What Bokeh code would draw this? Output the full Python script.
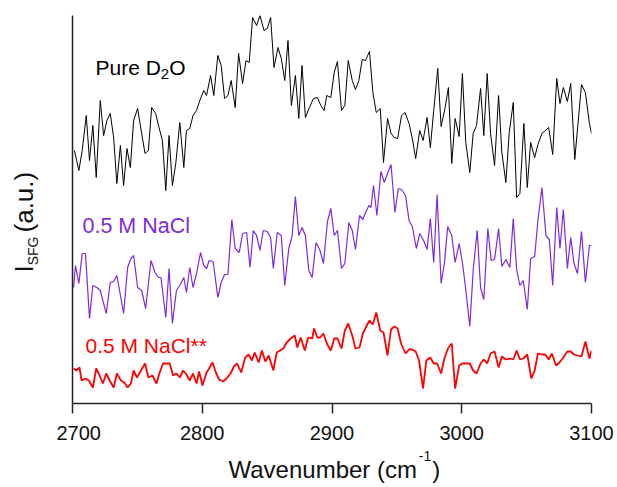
import math
from bokeh.plotting import figure
from bokeh.models import Range1d, FixedTicker, Label
from bokeh.core.properties import value
from bokeh.layouts import column, row
from bokeh.embed import file_html
from bokeh.resources import INLINE

# ---------------- data ----------------
x_ticks = [2700, 2800, 2900, 3000, 3100]

black_wn = [2701.5, 2704.9, 2707.5, 2710.6, 2713.1, 2715.7, 2718.3, 2721.4, 2724.0, 2726.5,
            2729.1, 2731.7, 2734.2, 2736.9, 2739.4, 2742.0, 2744.6, 2747.1, 2750.2, 2753.3,
            2755.9, 2758.5, 2761.0, 2764.1, 2766.7, 2769.3, 2771.9, 2774.4, 2777.0, 2779.6,
            2782.7, 2785.8, 2787.8, 2790.4, 2792.9, 2795.6, 2798.1, 2801.2, 2803.3, 2806.4,
            2808.9, 2812.0, 2814.6, 2817.2, 2819.8, 2822.3, 2825.4, 2828.0, 2831.1, 2833.7,
            2836.2, 2838.8, 2841.9, 2844.5, 2847.6, 2850.1, 2852.7, 2855.3, 2858.4, 2860.9,
            2863.6, 2866.1, 2868.7, 2871.8, 2874.4, 2876.9, 2879.5, 2882.6, 2885.7, 2888.7,
            2891.4, 2893.9, 2896.0, 2899.1, 2901.7, 2904.2, 2907.3, 2909.9, 2912.5, 2915.6,
            2918.1, 2920.7, 2923.3, 2925.8, 2928.9, 2931.5, 2934.1, 2937.2, 2939.7, 2942.8,
            2945.5, 2948.0, 2950.6, 2953.6, 2956.3, 2959.4, 2961.9, 2964.5, 2967.6, 2970.2,
            2973.3, 2975.8, 2978.4, 2981.5, 2984.1, 2987.2, 2989.7, 2992.3, 2994.9, 2998.0,
            3000.5, 3003.1, 3006.2, 3008.8, 3011.4, 3014.5, 3017.0, 3019.6, 3022.2, 3025.3,
            3028.4, 3030.9, 3034.0, 3036.6, 3039.7, 3042.3, 3044.8, 3047.9, 3050.5, 3053.1,
            3056.2, 3058.7, 3061.8, 3064.4, 3067.0, 3070.1, 3073.2, 3075.7, 3078.3, 3081.4,
            3084.0, 3087.1, 3089.6, 3092.3, 3095.3, 3098.4, 3100.0]
black_I = [253, 233, 253, 288, 243, 278, 226, 303, 268, 283,
           290, 266, 220, 258, 218, 255, 236, 283, 295, 270,
           250, 253, 296, 290, 276, 263, 213, 268, 218, 240,
           281, 236, 273, 275, 288, 293, 303, 313, 308, 328,
           308, 348, 338, 305, 308, 323, 296, 350, 320, 343,
           341, 386, 378, 388, 373, 375, 386, 336, 356, 345,
           323, 363, 298, 328, 285, 338, 286, 296, 305, 306,
           298, 293, 308, 306, 331, 342, 293, 298, 343, 323,
           314, 323, 344, 343, 352, 311, 291, 295, 241, 285,
           270, 266, 265, 288, 291, 280, 265, 245, 273, 263,
           286, 256, 293, 335, 277, 296, 316, 240, 285, 267,
           330, 261, 231, 270, 278, 315, 268, 330, 270, 238,
           308, 251, 221, 271, 301, 206, 210, 280, 216, 261,
           246, 259, 270, 273, 276, 249, 325, 300, 316, 302,
           320, 244, 280, 319, 311, 280, 270]

purple_wn = [2700.8, 2702.3, 2704.9, 2707.5, 2710.0, 2713.1, 2715.7, 2718.8, 2721.4, 2726.0,
             2729.1, 2731.7, 2734.2, 2736.3, 2739.4, 2742.5, 2745.0, 2747.1, 2750.2, 2753.3,
             2756.4, 2760.5, 2763.6, 2766.2, 2768.2, 2771.9, 2774.4, 2777.0, 2780.1, 2782.7,
             2785.8, 2787.8, 2790.4, 2792.9, 2795.6, 2798.7, 2801.2, 2803.3, 2805.3, 2808.4,
             2812.0, 2814.6, 2817.2, 2819.8, 2822.8, 2825.4, 2828.5, 2831.1, 2834.2, 2836.8,
             2839.3, 2841.9, 2844.5, 2847.0, 2850.1, 2852.7, 2854.8, 2857.8, 2860.9, 2863.6,
             2866.7, 2869.2, 2871.8, 2874.4, 2876.9, 2879.5, 2882.1, 2884.7, 2887.7, 2890.8,
             2893.4, 2896.5, 2899.1, 2901.7, 2904.2, 2907.3, 2909.9, 2913.0, 2915.6, 2918.1,
             2921.2, 2923.8, 2925.8, 2928.5, 2930.0, 2932.0, 2934.6, 2937.7, 2940.3, 2942.8,
             2945.5, 2948.5, 2951.1, 2953.6, 2956.7, 2959.4, 2961.9, 2965.0, 2967.6, 2970.6,
             2973.3, 2975.8, 2978.4, 2981.0, 2984.1, 2986.6, 2989.2, 2992.3, 2994.9, 2998.0,
             3000.5, 3003.1, 3006.2, 3008.8, 3011.9, 3014.5, 3017.0, 3020.1, 3022.7, 3025.3,
             3028.4, 3030.9, 3034.0, 3037.1, 3039.7, 3042.3, 3044.8, 3047.4, 3050.5, 3053.1,
             3056.2, 3058.7, 3061.8, 3064.9, 3067.5, 3070.1, 3073.2, 3075.7, 3078.3, 3081.4,
             3084.0, 3086.5, 3089.2, 3092.3, 3095.3, 3098.4, 3100.0]
purple_I = [116, 138, 120, 150, 150, 85, 118, 116, 113, 90,
            121, 122, 128, 113, 90, 136, 145, 148, 116, 113,
            95, 143, 131, 126, 126, 86, 135, 80, 113, 118,
            126, 111, 136, 116, 130, 151, 138, 135, 143, 142,
            106, 121, 129, 129, 184, 155, 151, 170, 171, 136,
            173, 168, 153, 173, 172, 166, 135, 171, 168, 118,
            155, 167, 207, 168, 176, 168, 133, 126, 161, 153,
            140, 182, 195, 168, 173, 135, 140, 181, 173, 154,
            188, 184, 191, 198, 196, 218, 188, 232, 221, 230,
            239, 191, 215, 214, 208, 183, 177, 155, 170, 163,
            154, 185, 141, 209, 120, 140, 177, 168, 141, 160,
            141, 114, 77, 133, 173, 116, 104, 175, 143, 144,
            175, 137, 144, 136, 185, 134, 118, 123, 94, 145,
            147, 183, 216, 168, 164, 118, 196, 155, 194, 135,
            166, 140, 130, 172, 121, 158, 158]

red_wn = [2700.8, 2702.9, 2705.4, 2707.0, 2710.0, 2712.6, 2715.7, 2718.3, 2720.9, 2723.4,
          2726.0, 2728.6, 2731.7, 2734.2, 2737.3, 2739.9, 2742.5, 2745.0, 2747.1, 2749.7,
          2752.8, 2755.9, 2758.5, 2761.6, 2764.7, 2767.2, 2769.8, 2772.9, 2774.9, 2777.5,
          2780.1, 2782.7, 2785.2, 2787.3, 2790.4, 2792.9, 2795.6, 2797.6, 2800.2, 2803.3,
          2805.3, 2807.9, 2810.5, 2813.0, 2816.1, 2818.7, 2821.8, 2824.4, 2826.9, 2830.0,
          2833.1, 2835.7, 2838.3, 2840.4, 2843.5, 2846.0, 2848.6, 2851.2, 2854.8, 2857.4,
          2859.9, 2862.5, 2865.1, 2868.2, 2871.3, 2873.3, 2875.9, 2879.0, 2881.6, 2884.7,
          2886.2, 2888.7, 2890.8, 2893.4, 2896.0, 2899.1, 2901.7, 2904.2, 2907.3, 2909.9,
          2912.5, 2915.6, 2918.1, 2921.2, 2923.8, 2926.4, 2928.9, 2931.5, 2934.1, 2937.2,
          2939.7, 2942.8, 2945.5, 2948.0, 2950.6, 2953.2, 2956.7, 2959.4, 2961.9, 2964.5,
          2967.1, 2970.2, 2972.7, 2975.8, 2978.4, 2981.0, 2984.1, 2986.6, 2989.7, 2992.3,
          2994.9, 2998.0, 3000.5, 3003.1, 3006.2, 3008.8, 3011.4, 3014.5, 3017.0, 3019.6,
          3022.2, 3025.3, 3028.4, 3030.9, 3034.0, 3037.1, 3039.7, 3042.3, 3044.8, 3047.4,
          3050.5, 3053.6, 3056.2, 3058.7, 3061.8, 3064.4, 3067.0, 3069.5, 3072.6, 3075.3,
          3078.3, 3081.4, 3084.0, 3086.5, 3089.2, 3092.3, 3095.3, 3098.4, 3100.0]
red_I = [35, 33, 36, 23, 25, 23, 16, 35, 28, 20,
         30, 23, 16, 30, 23, 21, 16, 20, 33, 26,
         33, 40, 26, 28, 20, 31, 40, 40, 40, 28,
         30, 26, 33, 30, 23, 30, 20, 32, 18, 31,
         35, 41, 31, 24, 22, 25, 30, 37, 40, 31,
         46, 49, 43, 51, 41, 53, 42, 48, 33, 51,
         53, 55, 61, 65, 68, 56, 66, 53, 66, 65,
         75, 66, 66, 70, 60, 53, 65, 65, 55, 73,
         80, 68, 55, 56, 70, 77, 83, 79, 91, 73,
         71, 48, 74, 77, 75, 60, 50, 54, 54, 52,
         43, 15, 43, 46, 40, 40, 30, 45, 56, 60,
         15, 38, 40, 40, 40, 33, 30, 40, 44, 40,
         50, 52, 36, 47, 44, 45, 44, 53, 44, 45,
         49, 25, 33, 50, 49, 49, 44, 50, 38, 41,
         46, 52, 52, 49, 48, 47, 62, 45, 53]

series_names = ["Pure D2O", "0.5 M NaCl", "0.5 M NaCl**"]

# ---------------- styling ----------------
FONT = "Liberation Sans"
BLACK = "#000000"
PURPLE = "#7D2AE0"
RED = "#FF0000"
TXT = "#111111"
MID = 0.3465   # distance baseline -> centre of the text box, in font sizes

ARIAL = {'P': 667, 'u': 556, 'r': 333, 'e': 556, ' ': 278, 'D': 722, '2': 556, 'O': 778,
         'I': 278, 'S': 667, 'F': 611, 'G': 778, '(': 333, 'a': 556, '.': 278, ')': 333,
         'W': 944, 'v': 500, 'n': 556, 'm': 833, 'b': 556, 'c': 500, '-': 333, '1': 556}


def tw(s, size):
    return sum(ARIAL.get(c, 556) for c in s) * size / 1000.0


# page geometry (canvas starts at page 0,0)
TOTAL_W, TOTAL_H = 617, 487
YL_W = 56                    # strip holding the rotated y title
MAIN_H = 448                 # main plot height
XL_H = TOTAL_H - MAIN_H      # strip holding the x title
MAIN_W = TOTAL_W - YL_W
FL, FR, FT = 16, 26, 15
FB = MAIN_H - 403
FRAME_X0, FRAME_Y0 = YL_W + FL, 403   # page position of (2700, 0)

p = figure(width=MAIN_W, height=MAIN_H, x_range=Range1d(x_ticks[0], x_ticks[-1]),
           y_range=Range1d(0, 388), output_backend="svg", toolbar_location=None,
           min_border_left=FL, min_border_right=FR, min_border_top=FT, min_border_bottom=FB,
           background_fill_color="white", border_fill_color="white")
p.title_location = None
p.outline_line_color = None
p.xgrid.visible = False
p.ygrid.visible = False

xa = p.xaxis[0]
xa.ticker = FixedTicker(ticks=x_ticks)
xa.axis_line_width = 1.5
xa.axis_line_color = "#222222"
xa.major_tick_line_width = 1.5
xa.major_tick_line_color = "#222222"
xa.major_tick_in = 0
xa.major_tick_out = 10
xa.minor_tick_line_color = None
xa.major_label_text_font = FONT
xa.major_label_text_font_size = "20px"
xa.major_label_text_color = TXT
xa.major_label_standoff = 12

ya = p.yaxis[0]
ya.ticker = FixedTicker(ticks=[])
ya.axis_line_width = 1.5
ya.axis_line_color = "#222222"
ya.major_tick_line_color = None
ya.minor_tick_line_color = None
ya.major_tick_out = 0
ya.major_label_standoff = 0
ya.major_label_text_font_size = "0px"

p.line(black_wn, black_I, line_color=BLACK, line_width=1.0)
p.line(purple_wn, purple_I, line_color=PURPLE, line_width=1.2)
p.line(red_wn, red_I, line_color=RED, line_width=1.8)


def put_main(text, px, py, size, color=TXT):
    """px = left edge, py = baseline, both in page pixels."""
    cy = py - MID * size
    p.add_layout(Label(x=x_ticks[0], y=0, x_offset=px - FRAME_X0, y_offset=FRAME_Y0 - cy,
                       text=text, text_font=FONT, text_font_size=f"{size}px",
                       text_color=color, text_align="left", text_baseline="alphabetic"))


# in-plot series labels
px, py = 95, 74
put_main("Pure D", px, py, 21, BLACK)
put_main("2", px + tw("Pure D", 21), py + 5, 15, BLACK)
put_main("O", px + tw("Pure D", 21) + tw("2", 15), py, 21, BLACK)
put_main(series_names[1], 82, 233, 21.5, PURPLE)
put_main(series_names[2], 85, 352, 21, RED)


def strip(w, h, top=0, bottom=0):
    f = figure(width=w, height=h, x_range=Range1d(0, w), y_range=Range1d(0, h - top - bottom),
               output_backend="svg", toolbar_location=None, x_axis_type=None, y_axis_type=None,
               min_border=0, min_border_left=0, min_border_right=0, min_border_top=top,
               min_border_bottom=bottom, background_fill_color="white",
               border_fill_color="white")
    f.title_location = None
    f.outline_line_color = None
    f.grid.visible = False
    return f


# the y strip shares the main plot's top/bottom borders (row alignment)
yfig = strip(YL_W, MAIN_H, FT, FB)
xfig = strip(TOTAL_W, XL_H)


def put_strip(fig, y_bottom, text, px, py, size, rotated=False):
    """px, py: start of the baseline in page pixels; y_bottom: page y of data y = 0."""
    if rotated:
        cx, cy = px - MID * size, py
    else:
        cx, cy = px, py - MID * size
    fig.text(x=[cx], y=[y_bottom - cy], text=[text], angle=math.pi / 2 if rotated else 0.0,
             text_font=value(FONT), text_font_size=f"{size}px", text_color=TXT,
             text_align="left", text_baseline="alphabetic")


# y-axis title with subscript (rotated, reads bottom to top)
yx, yy = 33, 272
BIG, SUB = 26, 14
put_strip(yfig, FRAME_Y0, "I", yx, yy, BIG, True)
put_strip(yfig, FRAME_Y0, "SFG", yx + 4, yy - tw("I", BIG), SUB, True)
put_strip(yfig, FRAME_Y0, " (a.u.)", yx, yy - tw("I", BIG) - tw("SFG", SUB) - 4, BIG, True)

# x-axis title with superscript
tx, ty = 228, 477
put_strip(xfig, TOTAL_H, "Wavenumber (cm", tx, ty, 24)
sx = tx + tw("Wavenumber (cm", 24) + 1
put_strip(xfig, TOTAL_H, "-1", sx, ty - 17, 14)
put_strip(xfig, TOTAL_H, ")", sx + tw("-1", 14) + 1, ty, 24)

layout = column(row(yfig, p), xfig)

open("out.html", "w").write(file_html(layout, INLINE))
